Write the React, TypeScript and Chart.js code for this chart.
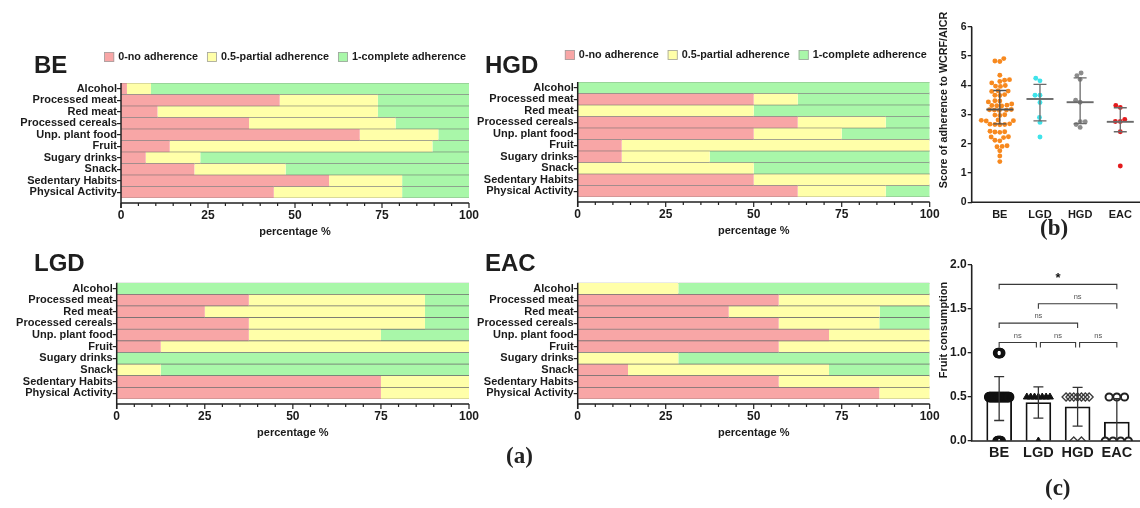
import React, { useEffect, useRef } from 'react';
import { Chart, registerables } from 'chart.js';

Chart.register(...registerables);

const FONT = "'Liberation Sans', Arial, Helvetica, sans-serif";
const SERIF = "'Liberation Serif', 'DejaVu Serif', serif";
const INK = '#1b1b1b';

// ---------------- panel (a) data ----------------
const habits = ['Alcohol', 'Processed meat', 'Red meat', 'Processed cereals', 'Unp. plant food', 'Fruit', 'Sugary drinks', 'Snack', 'Sedentary Habits', 'Physical Activity'];
const adherenceLabels = ['0-no adherence', '0.5-partial adherence', '1-complete adherence'];
const adherenceColors = ['#F8A6A6', '#FFFFA9', '#A9F7A9'];
const percentTicks = [0, 25, 50, 75, 100];

const beNo = [1.7, 45.6, 10.5, 36.8, 68.6, 14.0, 7.1, 21.1, 59.8, 43.9];
const bePartial = [6.9, 28.2, 63.3, 42.1, 22.6, 75.5, 15.7, 26.2, 21.0, 36.9];
const beComplete = [91.4, 26.2, 26.2, 21.1, 8.8, 10.5, 77.2, 52.7, 19.2, 19.2];

const hgdNo = [0, 50, 0, 62.5, 50, 12.5, 12.5, 0, 50, 62.5];
const hgdPartial = [0, 12.5, 50, 25, 25, 87.5, 25, 50, 50, 25];
const hgdComplete = [100, 37.5, 50, 12.5, 25, 0, 62.5, 50, 0, 12.5];

const lgdNo = [0, 37.5, 25, 37.5, 37.5, 12.5, 0, 0, 75, 75];
const lgdPartial = [0, 50, 62.5, 50, 37.5, 87.5, 0, 12.5, 25, 25];
const lgdComplete = [100, 12.5, 12.5, 12.5, 25, 0, 100, 87.5, 0, 0];

const eacNo = [0, 57.1, 42.9, 57.1, 71.4, 57.1, 0, 14.3, 57.1, 85.7];
const eacPartial = [28.6, 42.9, 42.9, 28.6, 28.6, 42.9, 28.6, 57.1, 42.9, 14.3];
const eacComplete = [71.4, 0, 14.3, 14.3, 0, 0, 71.4, 28.6, 0, 0];

// ---------------- panel (b) data ----------------
const groups = ['BE', 'LGD', 'HGD', 'EAC'];
const scoreBE = [4.91, 4.83, 4.81, 4.34, 4.19, 4.17, 4.13, 4.08, 3.99, 3.97, 3.96, 3.81, 3.8, 3.79, 3.66, 3.65, 3.68,
  3.47, 3.43, 3.46, 3.32, 3.3, 3.29, 3.31, 3.36, 3.15, 3.16, 3.14, 3.17, 3.15, 2.98, 2.97, 2.99, 2.8, 2.81, 2.79, 2.78,
  2.66, 2.67, 2.65, 2.66, 2.68, 2.4, 2.41, 2.39, 2.43, 2.23, 2.21, 2.24, 2.1, 2.12, 1.9, 1.93, 1.91, 1.76, 1.58, 1.39];
const scoreLGD = [4.15, 4.24, 3.66, 3.66, 3.41, 2.9, 2.73, 2.23];
const scoreHGD = [4.42, 4.33, 4.2, 3.49, 3.42, 2.75, 2.75, 2.66, 2.56];
const scoreEAC = [3.24, 3.31, 2.83, 2.76, 2.76, 2.41, 1.24];
const scoreMedian = [3.17, 3.53, 3.42, 2.75];
const scoreQ1 = [2.68, 2.78, 2.69, 2.41];
const scoreQ3 = [3.82, 4.03, 4.25, 3.23];
const scoreColors = ['#F7891F', '#3FE3EA', '#8C8C8C', '#E31A1C'];
const scoreLineColors = ['#505050', '#6a6a6a', '#6a6a6a', '#6a6a6a'];
const scoreTicks = [0, 1, 2, 3, 4, 5, 6];

// ---------------- panel (c) data ----------------
const fruitLevels = [0, 0.5, 1];
const fruitCountsBE = [8, 43, 6];
const fruitCountsLGD = [1, 7, 0];
const fruitCountsHGD = [2, 7, 0];
const fruitCountsEAC = [4, 3, 0];
const fruitTicks = [0, 0.5, 1, 1.5, 2];
const bracketFrom = [0, 1, 0, 0, 1, 2];
const bracketTo = [3, 3, 2, 1, 2, 3];
const bracketY = [1.78, 1.56, 1.34, 1.12, 1.12, 1.12];
const bracketLabel = ['*', 'ns', 'ns', 'ns', 'ns', 'ns'];

// ---------------- helpers ----------------
const X_MIN = -0.7;
const X_MAX = 3.43;
const X_UNIT = 168.3 / (X_MAX - X_MIN); // px per group unit
const Y_UNIT_B = 175.6 / 6;

function swarm(values: number[], center: number, diam: number) {
  const placed: { x: number; y: number }[] = [];
  const sorted = [...values].sort((a, b) => a - b);
  for (const v of sorted) {
    const yp = v * Y_UNIT_B;
    const iv: [number, number][] = [];
    for (const p of placed) {
      const dy = Math.abs(p.y - yp);
      if (dy < diam) {
        const dx = Math.sqrt(diam * diam - dy * dy);
        iv.push([p.x - dx, p.x + dx]);
      }
    }
    const cands = [0];
    iv.forEach(([a, b]) => cands.push(a, b));
    cands.sort((a, b) => Math.abs(a) - Math.abs(b));
    let xp = 0;
    for (const c of cands) {
      if (iv.every(([a, b]) => c <= a + 1e-6 || c >= b - 1e-6)) { xp = c; break; }
    }
    placed.push({ x: xp, y: yp });
  }
  return placed.map((p) => ({ x: center + p.x / X_UNIT, y: p.y / Y_UNIT_B }));
}

function expand(levels: number[], counts: number[]) {
  const out: number[] = [];
  levels.forEach((lv, i) => { for (let j = 0; j < counts[i]; j++) out.push(lv); });
  return out;
}
const mean = (a: number[]) => a.reduce((s, v) => s + v, 0) / a.length;
const sd = (a: number[]) => { const m = mean(a); return Math.sqrt(a.reduce((s, v) => s + (v - m) ** 2, 0) / (a.length - 1)); };

function spread(levels: number[], counts: number[], center: number) {
  const n = counts.reduce((s, v) => s + v, 0);
  const pts: { x: number; y: number }[] = [];
  levels.forEach((lv, i) => {
    const k = counts[i];
    if (!k) return;
    const step = k > 1 ? (n > 20 ? Math.min(0.5, 24 / (k - 1)) : Math.min(8, 24 / (k - 1))) : 0;
    for (let j = 0; j < k; j++) pts.push({ x: center + ((j - (k - 1) / 2) * step) / X_UNIT, y: lv });
  });
  return pts;
}

// ---------------- plugins ----------------
const barPanelAxes = {
  id: 'barPanelAxes',
  afterDraw(chart: any) {
    const { ctx, chartArea: a, scales } = chart;
    const x = scales.x;
    const yAx = a.bottom + 5;
    ctx.save();
    ctx.strokeStyle = '#222';
    ctx.lineWidth = 1.5;
    ctx.beginPath();
    ctx.moveTo(a.left, a.top);
    ctx.lineTo(a.left, yAx + 5);
    ctx.moveTo(a.left, yAx);
    ctx.lineTo(a.right, yAx);
    ctx.stroke();
    ctx.lineWidth = 1.2;
    ctx.beginPath();
    const major = x.ticks.map((t: any) => t.value);
    for (let i = 0; i < major.length; i++) {
      const px = x.getPixelForValue(major[i]);
      ctx.moveTo(px, yAx);
      ctx.lineTo(px, yAx + 5);
      if (i < major.length - 1) {
        const step = (major[i + 1] - major[i]) / 5;
        for (let k = 1; k < 5; k++) {
          const mp = x.getPixelForValue(major[i] + k * step);
          ctx.moveTo(mp, yAx);
          ctx.lineTo(mp, yAx + 3);
        }
      }
    }
    ctx.stroke();
    ctx.restore();
  },
};

const prismLegend = {
  id: 'prismLegend',
  afterDraw(chart: any, _args: any, opts: any) {
    if (!opts || !opts.display) return;
    const { ctx, chartArea: a } = chart;
    ctx.save();
    ctx.font = `bold 10.8px ${FONT}`;
    ctx.textBaseline = 'middle';
    const items = chart.data.datasets.map((d: any) => ({ text: d.label, color: d.backgroundColor, w: ctx.measureText(d.label).width }));
    const box = 10, gapText = 4, gapItem = 9;
    const total = items.reduce((s: number, it: any) => s + box + gapText + it.w, 0) + gapItem * (items.length - 1);
    let xp = a.right - opts.rightInset - total;
    const yc = a.top - opts.offset;
    for (const it of items) {
      ctx.fillStyle = it.color;
      ctx.fillRect(xp, yc - 5, box, box);
      ctx.strokeStyle = '#a0a0a0';
      ctx.lineWidth = 0.8;
      ctx.strokeRect(xp + 0.4, yc - 4.6, box - 0.8, box - 0.8);
      ctx.fillStyle = INK;
      ctx.fillText(it.text, xp + box + gapText, yc + 0.5);
      xp += box + gapText + it.w + gapItem;
    }
    ctx.restore();
  },
};

const sideAxes = {
  id: 'sideAxes',
  afterDraw(chart: any, _args: any, opts: any) {
    const { ctx, chartArea: a, width } = chart;
    ctx.save();
    ctx.strokeStyle = '#222';
    ctx.lineWidth = 1.6;
    ctx.beginPath();
    ctx.moveTo(a.left, a.top);
    ctx.lineTo(a.left, a.bottom);
    ctx.moveTo(a.left - 0.8, a.bottom);
    ctx.lineTo(width, a.bottom);
    ctx.stroke();
    ctx.translate(opts.titleX, opts.titleY);
    ctx.rotate(-Math.PI / 2);
    ctx.font = `bold ${opts.titleSize}px ${FONT}`;
    ctx.fillStyle = INK;
    ctx.textAlign = 'center';
    ctx.textBaseline = 'middle';
    ctx.fillText(opts.title, 0, 0);
    ctx.restore();
  },
};

const medianIqr = {
  id: 'medianIqr',
  afterDatasetsDraw(chart: any) {
    const { ctx, scales: { x, y } } = chart;
    ctx.save();
    groups.forEach((_, i) => {
      const cx = x.getPixelForValue(i);
      const y1 = y.getPixelForValue(scoreQ1[i]);
      const y3 = y.getPixelForValue(scoreQ3[i]);
      const ym = y.getPixelForValue(scoreMedian[i]);
      ctx.strokeStyle = scoreLineColors[i];
      ctx.lineWidth = 1.3;
      ctx.beginPath();
      ctx.moveTo(cx, y1); ctx.lineTo(cx, y3);
      ctx.moveTo(cx - 6.5, y1); ctx.lineTo(cx + 6.5, y1);
      ctx.moveTo(cx - 6.5, y3); ctx.lineTo(cx + 6.5, y3);
      ctx.stroke();
      ctx.lineWidth = 1.9;
      ctx.beginPath();
      ctx.moveTo(cx - 13.5, ym); ctx.lineTo(cx + 13.5, ym);
      ctx.stroke();
    });
    ctx.restore();
  },
};

const fruitSets = [fruitCountsBE, fruitCountsLGD, fruitCountsHGD, fruitCountsEAC].map((c) => expand(fruitLevels, c));
const fruitMean = fruitSets.map(mean);
const fruitSd = fruitSets.map(sd);

const errorAndBrackets = {
  id: 'errorAndBrackets',
  afterDatasetsDraw(chart: any) {
    const { ctx, scales: { x, y } } = chart;
    ctx.save();
    ctx.strokeStyle = '#333';
    ctx.lineWidth = 1.3;
    ctx.beginPath();
    fruitMean.forEach((m, i) => {
      const cx = x.getPixelForValue(i);
      const lo = m - fruitSd[i];
      const hi = m + fruitSd[i];
      const yl = y.getPixelForValue(Math.max(lo, 0));
      const yh = y.getPixelForValue(hi);
      ctx.moveTo(cx, yl); ctx.lineTo(cx, yh);
      ctx.moveTo(cx - 5, yh); ctx.lineTo(cx + 5, yh);
      if (lo > 0) { ctx.moveTo(cx - 5, yl); ctx.lineTo(cx + 5, yl); }
    });
    ctx.stroke();
    // significance brackets
    ctx.strokeStyle = '#3a3a3a';
    ctx.lineWidth = 1.1;
    bracketFrom.forEach((f, i) => {
      const t = bracketTo[i];
      const adjacent = t - f === 1;
      let x1 = x.getPixelForValue(f);
      let x2 = x.getPixelForValue(t);
      if (adjacent && f > 0) x1 += 2;
      if (adjacent && t < 3) x2 -= 2;
      const yb = y.getPixelForValue(bracketY[i]);
      ctx.beginPath();
      ctx.moveTo(x1, yb + 5); ctx.lineTo(x1, yb); ctx.lineTo(x2, yb); ctx.lineTo(x2, yb + 5);
      ctx.stroke();
      const star = bracketLabel[i] === '*';
      ctx.font = star ? `bold 13px ${FONT}` : `7.5px ${FONT}`;
      ctx.fillStyle = star ? '#111' : '#555';
      ctx.textAlign = 'center';
      ctx.textBaseline = 'middle';
      ctx.fillText(bracketLabel[i], (x1 + x2) / 2, yb - (star ? 6 : 7));
    });
    ctx.restore();
  },
};

// ---------------- configs ----------------
const tickFont = (size: number) => ({ family: FONT, size, weight: 'bold' as const });

function barPanel(no: number[], partial: number[], complete: number[], d: any) {
  return {
    type: 'bar',
    data: {
      labels: habits,
      datasets: [no, partial, complete].map((vals, i) => ({
        label: adherenceLabels[i],
        data: vals,
        backgroundColor: adherenceColors[i],
        borderColor: '#6e6e6e',
        borderWidth: { top: 0.7, bottom: 0.7, left: 0, right: 0 },
        borderSkipped: false,
        barPercentage: 1,
        categoryPercentage: 1,
      })),
    },
    options: {
      indexAxis: 'y',
      responsive: false,
      animation: false,
      layout: { padding: { top: d.padTop, right: d.padRight, left: 0, bottom: 0 } },
      plugins: {
        legend: { display: false },
        tooltip: { enabled: false },
        prismLegend: { display: d.legend, offset: d.legendOffset, rightInset: 3 },
      },
      scales: {
        x: {
          type: 'linear', stacked: true, min: 0, max: 100,
          afterBuildTicks: (s: any) => { s.ticks = percentTicks.map((v) => ({ value: v })); },
          ticks: { padding: 10.5, color: INK, font: tickFont(12), maxRotation: 0 },
          grid: { display: false, drawTicks: false },
          border: { display: false },
          title: { display: true, text: 'percentage %', color: INK, font: tickFont(11), padding: { top: 0, bottom: 6.4 } },
          afterFit: (s: any) => { s.height = 47; s.paddingLeft = 0; s.paddingRight = 0; },
        },
        y: {
          type: 'category', stacked: true, offset: true,
          ticks: { padding: 0, color: INK, font: tickFont(11), autoSkip: false },
          grid: { display: true, offset: false, drawOnChartArea: false, drawTicks: true, tickLength: 4, color: '#222', lineWidth: 1.2 },
          border: { display: false },
          afterFit: (s: any) => { s.width = d.yWidth; s.paddingTop = 0; s.paddingBottom = 0; },
        },
      },
    },
    plugins: [barPanelAxes, prismLegend],
  };
}

function scoreConfig() {
  const sets = [scoreBE, scoreLGD, scoreHGD, scoreEAC];
  return {
    type: 'scatter',
    data: {
      datasets: sets.map((vals, i) => ({
        label: groups[i],
        data: swarm(vals, i, 5),
        pointRadius: 2.45,
        pointBackgroundColor: scoreColors[i],
        pointBorderWidth: 0,
        pointHoverRadius: 2.45,
      })),
    },
    options: {
      responsive: false,
      animation: false,
      layout: { padding: { top: 26.7, right: 0, left: 0, bottom: 0 } },
      plugins: {
        legend: { display: false }, tooltip: { enabled: false },
        sideAxes: { title: 'Score of adherence to WCRF/AICR', titleX: 14, titleY: 100, titleSize: 10.7 },
      },
      scales: {
        x: {
          type: 'linear', min: X_MIN, max: X_MAX, offset: false,
          afterBuildTicks: (s: any) => { s.ticks = groups.map((_, i) => ({ value: i })); },
          ticks: { callback: (v: any) => groups[Math.round(v)] ?? '', padding: 6, color: INK, font: tickFont(11), autoSkip: false, maxRotation: 0 },
          grid: { display: false, drawTicks: false },
          border: { display: false },
          afterFit: (s: any) => { s.height = 47.7; s.paddingLeft = 0; s.paddingRight = 0; },
        },
        y: {
          type: 'linear', min: 0, max: 6,
          afterBuildTicks: (s: any) => { s.ticks = scoreTicks.map((v) => ({ value: v })); },
          ticks: { padding: 1, color: INK, font: tickFont(10.5) },
          grid: { display: true, drawOnChartArea: false, drawTicks: true, tickLength: 4, color: '#222', lineWidth: 1.3 },
          border: { display: false },
          afterFit: (s: any) => { s.width = 41.7; s.paddingTop = 0; s.paddingBottom = 0; },
        },
      },
    },
    plugins: [sideAxes, medianIqr],
  };
}

function fruitConfig() {
  const countSets = [fruitCountsBE, fruitCountsLGD, fruitCountsHGD, fruitCountsEAC];
  const styles = [
    { pointStyle: 'circle', pointRadius: 4, pointBorderWidth: 2.3, pointBorderColor: '#111', pointBackgroundColor: 'rgba(255,255,255,0)' },
    { pointStyle: 'triangle', pointRadius: 4, pointBorderWidth: 1, pointBorderColor: '#111', pointBackgroundColor: '#111' },
    { pointStyle: 'rectRot', pointRadius: 4, pointBorderWidth: 1.3, pointBorderColor: '#3a3a3a', pointBackgroundColor: 'rgba(255,255,255,0)' },
    { pointStyle: 'circle', pointRadius: 3.6, pointBorderWidth: 2, pointBorderColor: '#222', pointBackgroundColor: '#fff' },
  ];
  return {
    type: 'bar',
    data: {
      datasets: [
        {
          type: 'bar',
          label: 'mean',
          data: fruitMean.map((m, i) => ({ x: i, y: m })),
          backgroundColor: '#ffffff',
          borderColor: '#111',
          borderWidth: 1.8,
          barThickness: 25,
          order: 2,
        },
        ...countSets.map((c, i) => ({
          type: 'scatter',
          label: groups[i],
          data: spread(fruitLevels, c, i),
          ...styles[i],
          pointHoverRadius: styles[i].pointRadius,
          order: 1,
        })),
      ],
    },
    options: {
      responsive: false,
      animation: false,
      layout: { padding: { top: 15, right: 0, left: 0, bottom: 0 } },
      plugins: {
        legend: { display: false }, tooltip: { enabled: false },
        sideAxes: { title: 'Fruit consumption', titleX: 14, titleY: 80, titleSize: 11 },
      },
      scales: {
        x: {
          type: 'linear', min: X_MIN, max: X_MAX, offset: false,
          afterBuildTicks: (s: any) => { s.ticks = groups.map((_, i) => ({ value: i })); },
          ticks: { callback: (v: any) => groups[Math.round(v)] ?? '', padding: 3.3, color: INK, font: tickFont(14.5), autoSkip: false, maxRotation: 0 },
          grid: { display: false, drawTicks: false },
          border: { display: false },
          afterFit: (s: any) => { s.height = 67; s.paddingLeft = 0; s.paddingRight = 0; },
        },
        y: {
          type: 'linear', min: 0, max: 2,
          afterBuildTicks: (s: any) => { s.ticks = fruitTicks.map((v) => ({ value: v })); },
          ticks: { padding: 1, color: INK, font: tickFont(12), callback: (v: any) => Number(v).toFixed(1) },
          grid: { display: true, drawOnChartArea: false, drawTicks: true, tickLength: 4, color: '#222', lineWidth: 1.3 },
          border: { display: false },
          afterFit: (s: any) => { s.width = 41.7; s.paddingTop = 0; s.paddingBottom = 0; },
        },
      },
    },
    plugins: [sideAxes, errorAndBrackets],
  };
}

// ---------------- components ----------------
function ChartCanvas({ left, top, width, height, make }: any) {
  const ref = useRef<HTMLCanvasElement>(null);
  useEffect(() => {
    const chart = new Chart(ref.current as HTMLCanvasElement, make());
    return () => chart.destroy();
  }, []);
  return <canvas ref={ref} width={width} height={height} style={{ position: 'absolute', left, top, width, height }} />;
}

function Label({ text, left, top, size, serif }: any) {
  return (
    <div style={{ position: 'absolute', left, top, fontFamily: serif ? SERIF : FONT, fontWeight: 'bold', fontSize: size, lineHeight: '24px', color: serif ? '#222' : '#1e1e1e', whiteSpace: 'nowrap' }}>
      {text}
    </div>
  );
}

export default function App() {
  return (
    <div style={{ position: 'fixed', left: 0, top: 0, width: 1140, height: 508, background: '#ffffff', overflow: 'hidden' }}>
      <ChartCanvas left={0} top={40} width={480} height={205}
        make={() => barPanel(beNo, bePartial, beComplete, { padTop: 43, padRight: 11, yWidth: 121, legend: true, legendOffset: 26 })} />
      <ChartCanvas left={468} top={40} width={472} height={204}
        make={() => barPanel(hgdNo, hgdPartial, hgdComplete, { padTop: 42, padRight: 10.3, yWidth: 109.7, legend: true, legendOffset: 27 })} />
      <ChartCanvas left={0} top={250} width={480} height={196}
        make={() => barPanel(lgdNo, lgdPartial, lgdComplete, { padTop: 32.7, padRight: 11, yWidth: 116.7, legend: false, legendOffset: 0 })} />
      <ChartCanvas left={468} top={250} width={472} height={196}
        make={() => barPanel(eacNo, eacPartial, eacComplete, { padTop: 32.7, padRight: 10.3, yWidth: 109.7, legend: false, legendOffset: 0 })} />
      <ChartCanvas left={930} top={0} width={210} height={250} make={scoreConfig} />
      <ChartCanvas left={930} top={250} width={210} height={258} make={fruitConfig} />
      <Label text="BE" left={34} top={53} size={24} />
      <Label text="HGD" left={485} top={53} size={24} />
      <Label text="LGD" left={34} top={251} size={24} />
      <Label text="EAC" left={485} top={251} size={24} />
      <Label text="(a)" left={506} top={444} size={23} serif />
      <Label text="(b)" left={1040} top={216} size={23} serif />
      <Label text="(c)" left={1045} top={476} size={23} serif />
    </div>
  );
}
